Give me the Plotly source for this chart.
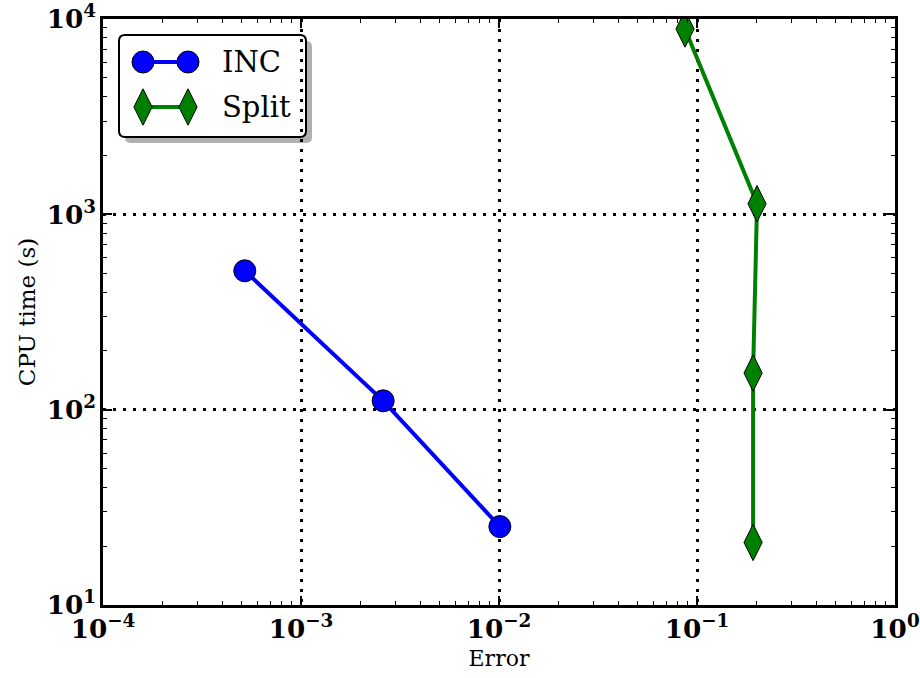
import plotly.graph_objects as go

# Error vs CPU time for the two solvers
inc_error = [5.2e-4, 2.6e-3, 1.01e-2]
inc_cpu = [514, 111, 25.2]

split_error = [0.087, 0.201, 0.192, 0.192]
split_cpu = [8890, 1133, 154, 20.9]

series_names = ["INC", "Split"]

x_range_log = [-4, 0]
y_range_log = [1, 4]

# figure geometry (pixels)
W, H = 920, 678
ML, MR, MT, MB = 103, 25, 19, 73
PW, PH = W - ML - MR, H - MT - MB

BLUE = "#0000ff"
GREEN = "#008000"
SERIF = "DejaVu Serif"


def px_x(x):
    return (x - ML) / PW


def px_y(y):
    return (H - MB - y) / PH


fig = go.Figure()

fig.add_trace(go.Scatter(
    x=inc_error, y=inc_cpu, mode="lines+markers", name=series_names[0],
    line=dict(color=BLUE, width=4),
    marker=dict(symbol="circle", size=22, color=BLUE, line=dict(color="black", width=1)),
    showlegend=False,
))
fig.add_trace(go.Scatter(
    x=split_error, y=split_cpu, mode="lines+markers", name=series_names[1],
    line=dict(color=GREEN, width=4),
    marker=dict(symbol="diamond-tall", size=26, color=GREEN, line=dict(color="black", width=1)),
    showlegend=False,
))

# legend drawn on an overlay axis spanning the plot area (0..1 each way)
leg_x0, leg_x1 = 143, 188
leg_rows = [(62, BLUE, "circle", 22), (107, GREEN, "diamond-tall", 26)]
for (ly, col, sym, sz), name in zip(leg_rows, series_names):
    fig.add_trace(go.Scatter(
        x=[px_x(leg_x0), px_x(leg_x1)], y=[px_y(ly), px_y(ly)],
        xaxis="x2", yaxis="y2", mode="lines+markers",
        line=dict(color=col, width=4),
        marker=dict(symbol=sym, size=sz, color=col, line=dict(color="black", width=1)),
        showlegend=False, hoverinfo="skip",
    ))
    fig.add_annotation(
        x=px_x(220), y=px_y(ly), xref="paper", yref="paper",
        text=name, showarrow=False, xanchor="left", yanchor="middle",
        font=dict(family=SERIF, size=29, color="black"),
    )


def rounded_rect(x0, y0, x1, y1, r):
    # pixel box -> paper path with rounded corners
    X = lambda v: f"{px_x(v):.5f}"
    Y = lambda v: f"{px_y(v):.5f}"
    return (f"M {X(x0 + r)},{Y(y0)} L {X(x1 - r)},{Y(y0)} Q {X(x1)},{Y(y0)} {X(x1)},{Y(y0 + r)} "
            f"L {X(x1)},{Y(y1 - r)} Q {X(x1)},{Y(y1)} {X(x1 - r)},{Y(y1)} "
            f"L {X(x0 + r)},{Y(y1)} Q {X(x0)},{Y(y1)} {X(x0)},{Y(y1 - r)} "
            f"L {X(x0)},{Y(y0 + r)} Q {X(x0)},{Y(y0)} {X(x0 + r)},{Y(y0)} Z")


bx0, by0, bx1, by1 = 119, 35, 306, 137
fig.add_shape(type="path", xref="paper", yref="paper", layer="between",
              path=rounded_rect(bx0 + 6, by0 + 6, bx1 + 6, by1 + 6, 6),
              fillcolor="#b0b0b0", line=dict(width=0))
fig.add_shape(type="path", xref="paper", yref="paper", layer="between",
              path=rounded_rect(bx0, by0, bx1, by1, 6),
              fillcolor="white", line=dict(color="black", width=2))

axis_common = dict(
    type="log", showline=True, linecolor="black", linewidth=2.5, mirror="allticks",
    ticks="inside", ticklen=9, tickwidth=1.5, tickcolor="black",
    dtick=1, exponentformat="power", automargin=False,
    showgrid=True, gridcolor="black", gridwidth=3, griddash="3px,7px",
    zeroline=False,
    tickfont=dict(family=SERIF, size=21, color="black", weight="bold"),
    minor=dict(ticks="inside", ticklen=4, tickwidth=1.2, tickcolor="black", showgrid=False),
    labelalias={"1": "10<sup>0</sup>", "10": "10<sup>1</sup>"},
)

fig.update_layout(
    width=W, height=H,
    margin=dict(l=ML, r=MR, t=MT, b=MB, pad=0, autoexpand=False),
    paper_bgcolor="white", plot_bgcolor="white",
    xaxis=dict(axis_common, range=x_range_log,
               title=dict(text="Error", font=dict(family=SERIF, size=22, color="black"), standoff=8)),
    yaxis=dict(axis_common, range=y_range_log,
               title=dict(text="CPU time (s)", font=dict(family=SERIF, size=23, color="black"), standoff=5)),
    xaxis2=dict(overlaying="x", range=[0, 1], visible=False, fixedrange=True),
    yaxis2=dict(overlaying="y", range=[0, 1], visible=False, fixedrange=True),
    showlegend=False,
)

fig.write_html("out.html")
